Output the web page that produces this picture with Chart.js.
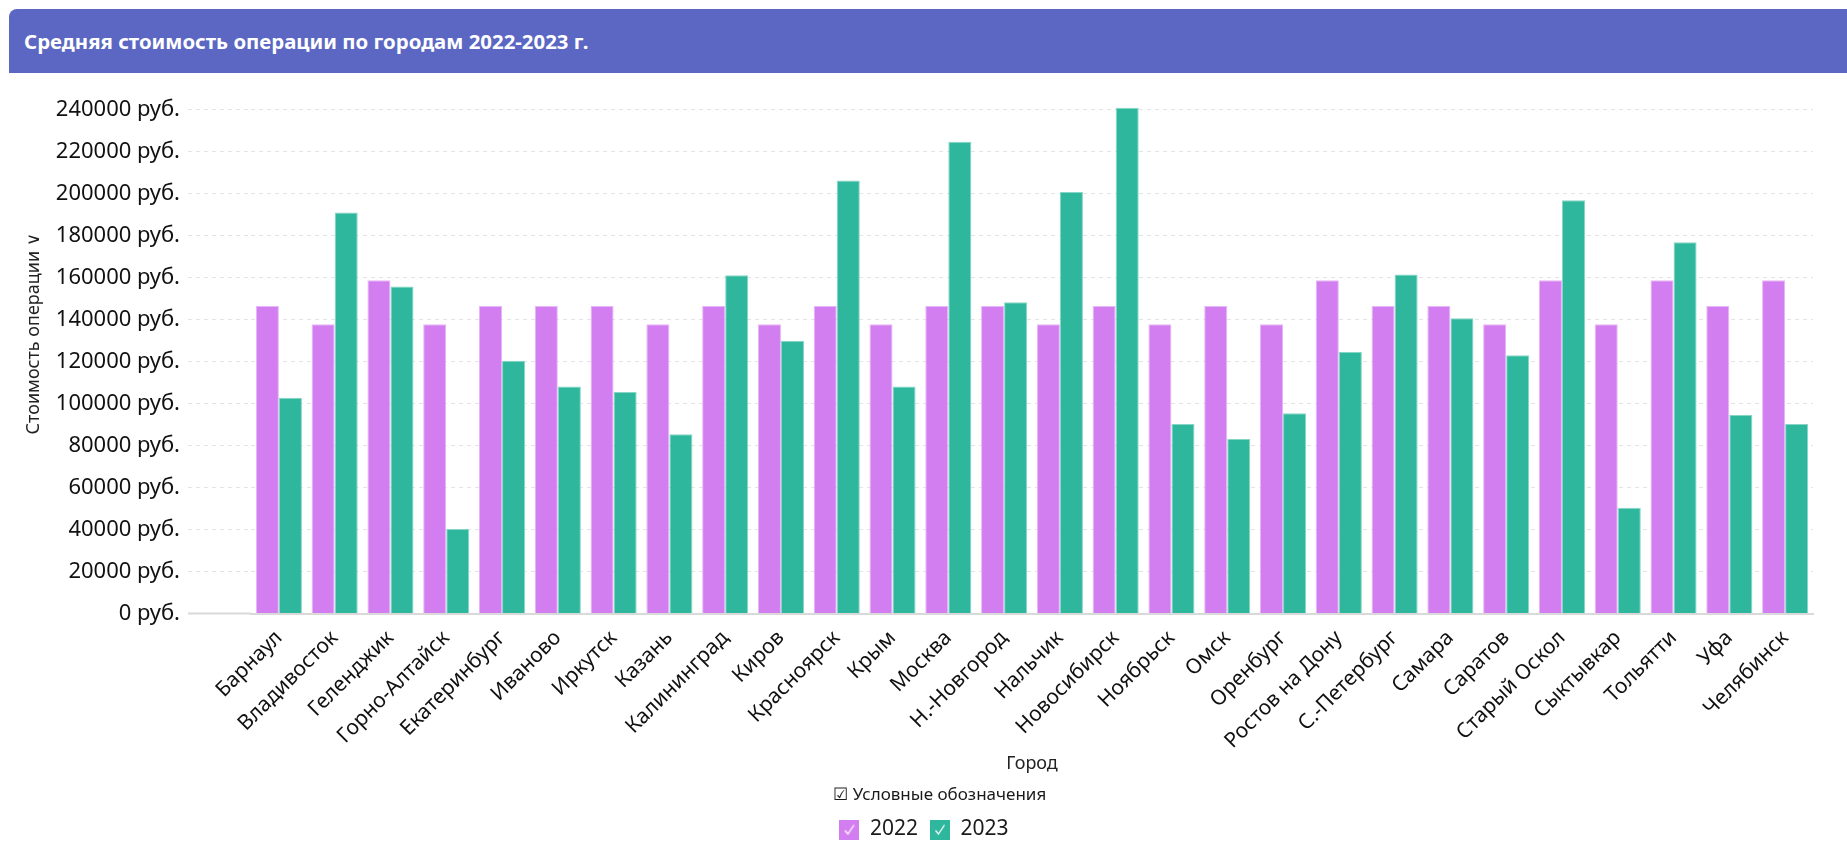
<!DOCTYPE html>
<html lang="ru">
<head>
    <meta charset="UTF-8">
    <title>Средняя стоимость операции по городам 2022-2023 г.</title>
    <script src="https://cdn.jsdelivr.net/npm/chart.js"></script>
    <style>
        html, body {
            margin: 0;
            padding: 0;
            background: #fff;
            overflow: hidden;
            font-family: 'Noto Sans', sans-serif;
        }

        .header {
            position: absolute;
            left: 9px;
            top: 9px;
            width: 1838px;
            height: 64px;
            background: #5B67C2;
            border-radius: 8px 0 0 0;
            color: #fff;
            font-weight: bold;
            font-size: 20.4px;
            line-height: 64px;
            box-sizing: border-box;
            padding-left: 15px;
        }

        .chart-box {
            position: absolute;
            left: 0;
            top: 69px;
            width: 1847px;
            height: 781px;
        }
    </style>
</head>
<body>
    <div class="header">Средняя стоимость операции по городам 2022-2023 г.</div>
    <div class="chart-box">
        <canvas id="chart" width="1847" height="781"></canvas>
    </div>

    <script>
        const cities = [
            'Барнаул', 'Владивосток', 'Геленджик', 'Горно-Алтайск', 'Екатеринбург',
            'Иваново', 'Иркутск', 'Казань', 'Калининград', 'Киров', 'Красноярск',
            'Крым', 'Москва', 'Н.-Новгород', 'Нальчик', 'Новосибирск', 'Ноябрьск',
            'Омск', 'Оренбург', 'Ростов на Дону', 'С.-Петербург', 'Самара', 'Саратов',
            'Старый Оскол', 'Сыктывкар', 'Тольятти', 'Уфа', 'Челябинск'
        ];

        const cost2022 = [
            146400, 137700, 158700, 137700, 146400, 146400, 146400, 137700, 146400, 137700,
            146400, 137700, 146400, 146400, 137700, 146400, 137700, 146400, 137700, 158700,
            146400, 146400, 137700, 158700, 137700, 158700, 146400, 158700
        ];

        const cost2023 = [
            102800, 191000, 155700, 40300, 120400, 108100, 105500, 85400, 161100, 129900,
            206200, 108100, 224700, 148200, 200700, 240800, 90300, 83100, 95400, 124500,
            161500, 140600, 123000, 196800, 50400, 176800, 94500, 90300
        ];

        const yTicks = [0, 20000, 40000, 60000, 80000, 100000, 120000, 140000,
                        160000, 180000, 200000, 220000, 240000];

        const seriesNames = ['2022', '2023'];
        const seriesColors = ['#D27EF0', '#2EB79D'];
        const seriesBorders = ['#E6B6F7', '#86D6C6'];

        Chart.defaults.font.family = "'Noto Sans', sans-serif";
        Chart.defaults.color = '#1a1a1a';

        // small square with a white tick, used as legend marker
        function checkBox(color) {
            const c = document.createElement('canvas');
            c.width = 20;
            c.height = 20;
            const g = c.getContext('2d');
            g.fillStyle = color;
            g.fillRect(0, 0, 20, 20);
            g.strokeStyle = '#fff';
            g.lineWidth = 1.3;
            g.beginPath();
            g.moveTo(5.5, 11);
            g.lineTo(8.5, 14.5);
            g.lineTo(14.5, 5.5);
            g.stroke();
            return c;
        }

        const ctx = document.getElementById('chart').getContext('2d');

        new Chart(ctx, {
            type: 'bar',
            data: {
                labels: cities,
                datasets: [{
                    label: seriesNames[0],
                    data: cost2022,
                    backgroundColor: seriesColors[0],
                    borderColor: seriesBorders[0],
                    borderWidth: 1
                }, {
                    label: seriesNames[1],
                    data: cost2023,
                    backgroundColor: seriesColors[1],
                    borderColor: seriesBorders[1],
                    borderWidth: 1
                }]
            },
            options: {
                responsive: false,
                animation: false,
                devicePixelRatio: 1,
                categoryPercentage: 0.826,
                barPercentage: 1.0,
                layout: {
                    padding: { left: 35, right: 34, top: 30, bottom: 0 }
                },
                plugins: {
                    tooltip: { enabled: false },
                    legend: {
                        position: 'bottom',
                        align: 'center',
                        title: {
                            display: true,
                            text: '\u2611 Условные обозначения',
                            position: 'start',
                            color: '#1a1a1a',
                            font: { size: 17 },
                            padding: { top: 12, bottom: 0 }
                        },
                        labels: {
                            usePointStyle: true,
                            boxWidth: 20,
                            boxHeight: 20,
                            padding: 12,
                            color: '#000',
                            font: { size: 21 },
                            generateLabels: chart => chart.data.datasets.map((ds, i) => ({
                                text: ds.label,
                                fillStyle: seriesColors[i],
                                strokeStyle: seriesColors[i],
                                pointStyle: checkBox(seriesColors[i]),
                                lineWidth: 0,
                                hidden: false,
                                datasetIndex: i
                            }))
                        }
                    }
                },
                scales: {
                    x: {
                        grid: { display: false, drawTicks: false },
                        border: { color: '#d9d9d9', width: 2 },
                        ticks: {
                            autoSkip: false,
                            minRotation: 45,
                            maxRotation: 45,
                            padding: 12,
                            color: '#111',
                            font: { size: 21 }
                        },
                        title: {
                            display: true,
                            text: 'Город',
                            color: '#222',
                            font: { size: 18 },
                            padding: { top: 0, bottom: 0 }
                        },
                        afterFit: axis => { axis.height = 161; }
                    },
                    y: {
                        min: 0,
                        max: 245000,
                        afterBuildTicks: axis => {
                            axis.ticks = yTicks.map(v => ({ value: v }));
                        },
                        ticks: {
                            padding: 8,
                            color: '#111',
                            font: { size: 22 },
                            callback: v => v + ' руб.'
                        },
                        grid: {
                            color: '#e4e4e4',
                            tickLength: 63,
                            tickColor: c => c.tick && c.tick.value === 0 ? '#d9d9d9' : '#e4e4e4',
                            tickWidth: c => c.tick && c.tick.value === 0 ? 2 : 1,
                            tickBorderDash: c => c.tick && c.tick.value === 0 ? [] : [4, 4]
                        },
                        border: {
                            display: false,
                            dash: c => c.tick && c.tick.value === 0 ? [] : [4, 4]
                        },
                        title: {
                            display: true,
                            text: '\u2003\u2003\u2002Стоимость операции \u2228',
                            color: '#222',
                            font: { size: 18 },
                            padding: { top: -12, bottom: 0 }
                        },
                        afterFit: axis => { axis.width = 216; }
                    }
                }
            }
        });
    </script>
</body>
</html>
